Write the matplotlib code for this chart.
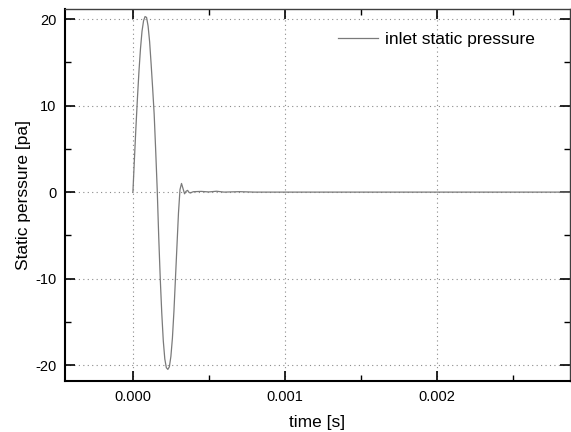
import matplotlib
matplotlib.use("Agg")
import matplotlib.pyplot as plt
from matplotlib.ticker import MultipleLocator, FormatStrFormatter

plt.rcParams['font.family'] = ['Liberation Sans', 'DejaVu Sans']
plt.rcParams['axes.unicode_minus'] = False

# values
time_s = [0.0, 0.00001, 0.00002, 0.00003, 0.00004, 0.00005, 0.00006, 0.00007,
          0.00008, 0.00009, 0.00010, 0.00011, 0.00012, 0.00013, 0.00014, 0.00015,
          0.00016, 0.00017, 0.00018, 0.00019, 0.00020, 0.00021, 0.00022, 0.00023,
          0.00024, 0.00025, 0.00026, 0.00027, 0.00028, 0.00029, 0.00030, 0.00031,
          0.00032, 0.00033, 0.00034, 0.00035, 0.00036, 0.00037, 0.00038, 0.00039,
          0.00040, 0.00045, 0.00050, 0.00055, 0.00060, 0.00070, 0.00080, 0.00100,
          0.00150, 0.00200, 0.00250, 0.00290]
pressure = [0.0, 3.8, 7.5, 10.9, 14.0, 16.6, 18.6, 19.8,
            20.3, 20.2, 19.2, 17.4, 14.8, 12.0, 9.0, 4.8,
            0.3, -5.2, -10.0, -14.0, -17.2, -19.3, -20.3, -20.5,
            -20.2, -19.0, -16.9, -13.8, -10.0, -6.2, -2.4, 0.3,
            1.0, 0.4, -0.2, 0.1, 0.2, -0.05, -0.1, 0.0,
            0.05, 0.08, 0.02, 0.1, 0.0, 0.05, 0.0, 0.0,
            0.0, 0.0, 0.0, 0.0]

fig = plt.figure(figsize=(5.71, 4.32), dpi=100)
ax = fig.add_axes([0.1138, 0.1169, 0.884, 0.862])

ax.plot(time_s, pressure, color="#7a7a7a", lw=0.9, label="inlet static pressure")

ax.set_xlim(-0.000447, 0.002875)
ax.set_ylim(-21.9, 21.16)
ax.xaxis.set_major_locator(MultipleLocator(0.001))
ax.xaxis.set_minor_locator(MultipleLocator(0.0005))
ax.xaxis.set_major_formatter(FormatStrFormatter("%.3f"))
ax.yaxis.set_major_locator(MultipleLocator(10))
ax.yaxis.set_minor_locator(MultipleLocator(5))

ax.tick_params(which="both", direction="in", top=True, right=True, labelsize=10.5)
ax.tick_params(which="major", length=7, width=1.2, pad=6)
ax.tick_params(which="minor", length=4, width=1.0)
ax.grid(True, which="major", linestyle=(0, (1, 3)), color="#8a8a8a", lw=0.8)

for s in ["left", "bottom"]:
    ax.spines[s].set_linewidth(1.5)
for s in ["top", "right"]:
    ax.spines[s].set_linewidth(1.0)
    ax.spines[s].set_color("#404040")

ax.set_xlabel("time [s]", fontsize=12.5, labelpad=8)
ax.set_ylabel("Static perssure [pa]", fontsize=12.5, labelpad=3)

ax.legend(loc="center right", bbox_to_anchor=(0.931, 0.919), frameon=False,
          fontsize=12.5, handlelength=2.3, handletextpad=0.4,
          borderpad=0, borderaxespad=0)

fig.savefig("out.png", dpi=100)
